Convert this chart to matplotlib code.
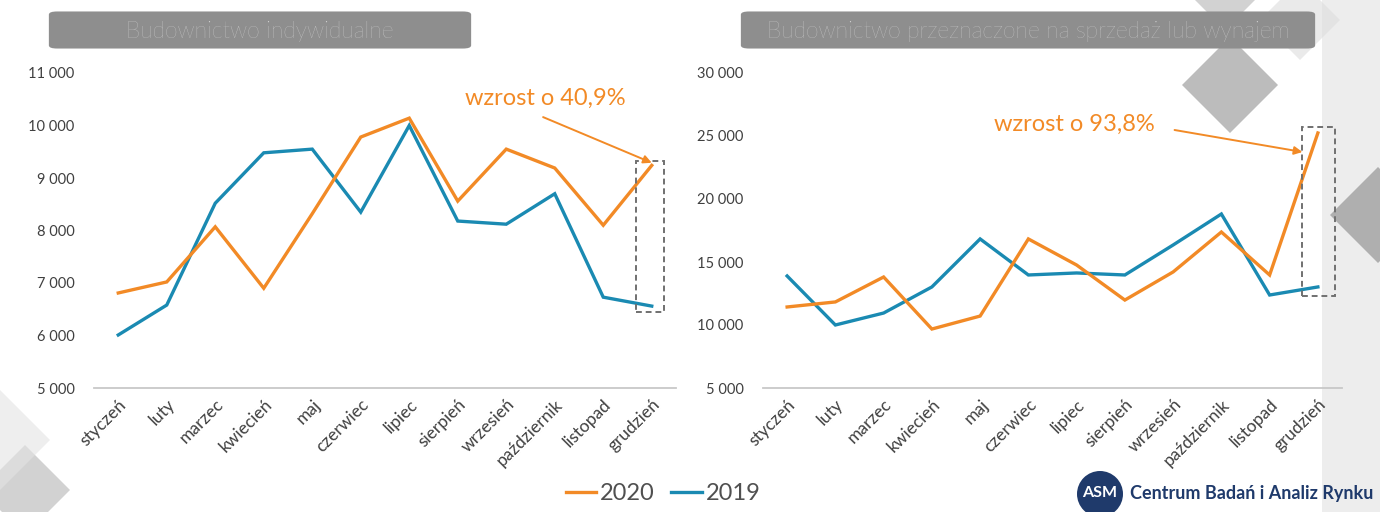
import matplotlib
matplotlib.use("Agg")
import matplotlib.pyplot as plt
from matplotlib.patches import FancyBboxPatch, Rectangle, Ellipse, Polygon
from matplotlib.lines import Line2D
from matplotlib.ticker import FuncFormatter

plt.rcParams['font.family'] = ['Lato', 'DejaVu Sans']

months = ['styczeń', 'luty', 'marzec', 'kwiecień', 'maj', 'czerwiec', 'lipiec',
          'sierpień', 'wrzesień', 'październik', 'listopad', 'grudzień']

ind_2020 = [6810, 7020, 8070, 6900, 8320, 9780, 10140, 8560, 9550, 9190, 8100, 9240]
ind_2019 = [6010, 6580, 8520, 9480, 9550, 8350, 10000, 8180, 8120, 8700, 6730, 6560]

sale_2020 = [11430, 11830, 13810, 9680, 10710, 16830, 14760, 11980, 14210, 17380, 13970, 25240]
sale_2019 = [13890, 10000, 10950, 13020, 16830, 13970, 14130, 13970, 16350, 18810, 12380, 13020]

titles = ['Budownictwo indywidualne', 'Budownictwo przeznaczone na sprzedaż lub wynajem']
notes = ['wzrost o 40,9%', 'wzrost o 93,8%']
left_ticks = [5000, 6000, 7000, 8000, 9000, 10000, 11000]
right_ticks = [5000, 10000, 15000, 20000, 25000, 30000]

ORANGE = '#F28A26'
BLUE = '#1A8AB2'
GREY_TXT = '#404040'
NAVY = '#1F3A6B'

W, H = 1380, 512
fig = plt.figure(figsize=(W / 100, H / 100), dpi=100)
fig.patch.set_facecolor('white')


def fx(x):
    return x / W


def fy(y):
    return 1 - y / H


# background decorations (diamonds)
def diamond(cx, cy, r, color, alpha):
    pts = [(fx(cx - r), fy(cy)), (fx(cx), fy(cy - r)), (fx(cx + r), fy(cy)), (fx(cx), fy(cy + r))]
    fig.add_artist(Polygon(pts, closed=True, transform=fig.transFigure,
                           facecolor=color, edgecolor='none', alpha=alpha, zorder=0))

fig.add_artist(Rectangle((fx(1322), 0), fx(58), 1, transform=fig.transFigure,
                         facecolor='#EDEDED', edgecolor='none', zorder=0))
diamond(1230, 85, 48, '#A6A6A6', 0.75)
diamond(1225, 0, 30, '#B5B5B5', 0.6)
diamond(1378, 215, 48, '#9A9A9A', 0.75)
diamond(1300, 20, 40, '#DDDDDD', 0.6)
diamond(25, 490, 45, '#BFBFBF', 0.7)
diamond(0, 440, 50, '#E3E3E3', 0.6)

ax1 = fig.add_axes([fx(94), fy(388), fx(582), (388 - 73) / H])
ax2 = fig.add_axes([fx(763), fy(388), fx(579), (388 - 73) / H])

x = list(range(len(months)))


def fmt(v, pos):
    return f'{int(v):,}'.replace(',', '\u00a0')


for ax, d20, d19, ylim, ticks in [
        (ax1, ind_2020, ind_2019, (5000, 11000), left_ticks),
        (ax2, sale_2020, sale_2019, (5000, 30000), right_ticks)]:
    ax.set_facecolor('none')
    ax.plot(x, d20, color=ORANGE, lw=2.4, solid_joinstyle='miter', zorder=4, clip_on=False)
    ax.plot(x, d19, color=BLUE, lw=2.4, solid_joinstyle='miter', zorder=3, clip_on=False)
    ax.set_xlim(-0.5, 11.5)
    ax.set_ylim(*ylim)
    ax.set_yticks(ticks)
    ax.yaxis.set_major_formatter(FuncFormatter(fmt))
    ax.set_xticks(x)
    ax.set_xticklabels(months, rotation=45, ha='right', va='top', rotation_mode='anchor',
                       fontsize=12.5, color=GREY_TXT)
    for lab in ax.get_yticklabels():
        lab.set_fontsize(10.5)
        lab.set_color(GREY_TXT)
    ax.tick_params(axis='both', length=0)
    ax.tick_params(axis='y', pad=14)
    ax.tick_params(axis='x', pad=6)
    for s in ['top', 'right', 'left']:
        ax.spines[s].set_visible(False)
    ax.spines['bottom'].set_color('#C8C8C8')
    ax.spines['bottom'].set_linewidth(1.3)

# dashed highlight boxes
ax1.add_patch(Rectangle((10.68, 6450), 0.58, 2870, fill=False, edgecolor='#707070',
                        lw=1.4, ls=(0, (3, 2)), zorder=5, clip_on=False))
ax2.add_patch(Rectangle((10.68, 12300), 0.68, 13400, fill=False, edgecolor='#707070',
                        lw=1.4, ls=(0, (3, 2)), zorder=5, clip_on=False))

# annotations
ax1.text(8.8, 10524, notes[0], color=ORANGE, fontsize=17, ha='center', va='center', zorder=6)
ax1.annotate('', xy=(11.0, 9290), xytext=(8.76, 10160),
             arrowprops=dict(arrowstyle='-|>', color=ORANGE, lw=1.4, mutation_scale=12,
                             shrinkA=0, shrinkB=0), zorder=6, annotation_clip=False)
ax2.text(5.96, 25950, notes[1], color=ORANGE, fontsize=17, ha='center', va='center', zorder=6)
ax2.annotate('', xy=(10.68, 23730), xytext=(8.03, 25476),
             arrowprops=dict(arrowstyle='-|>', color=ORANGE, lw=1.4, mutation_scale=12,
                             shrinkA=0, shrinkB=0), zorder=6, annotation_clip=False)

# title boxes
for (x0, x1), t in zip([(48, 472), (740, 1316)], titles):
    fig.add_artist(FancyBboxPatch((fx(x0 + 5), fy(50 - 3)), fx(x1 - x0 - 10), (40 - 6) / H,
                                  boxstyle='round,pad=0.003,rounding_size=0.006',
                                  transform=fig.transFigure, facecolor='#8E8E8E',
                                  edgecolor='none', zorder=2))
    fig.text(fx((x0 + x1) / 2), fy(31), t, ha='center', va='center', fontsize=16.5,
             color='#D6D6D6', fontweight='light', zorder=3)

# legend
handles = [Line2D([], [], color=ORANGE, lw=2.4), Line2D([], [], color=BLUE, lw=2.4)]
leg = fig.legend(handles, ['2020', '2019'], loc='center', bbox_to_anchor=(fx(663), fy(494)),
                 ncol=2, frameon=False, fontsize=17, handlelength=1.3, handletextpad=0.15,
                 columnspacing=0.7)
for t in leg.get_texts():
    t.set_color('#505050')

# logo
fig.add_artist(Ellipse((fx(1100), fy(494)), fx(46), 46 / H, transform=fig.transFigure,
                       facecolor=NAVY, edgecolor='none', zorder=3))
fig.text(fx(1100), fy(493), 'ASM', ha='center', va='center', fontsize=11.5,
         color='white', fontweight='bold', zorder=4)
fig.text(fx(1130), fy(493), 'Centrum Badań i Analiz Rynku', ha='left', va='center',
         fontsize=13, color=NAVY, fontweight='bold', zorder=4)

fig.savefig('out.png', dpi=100, facecolor='white')
